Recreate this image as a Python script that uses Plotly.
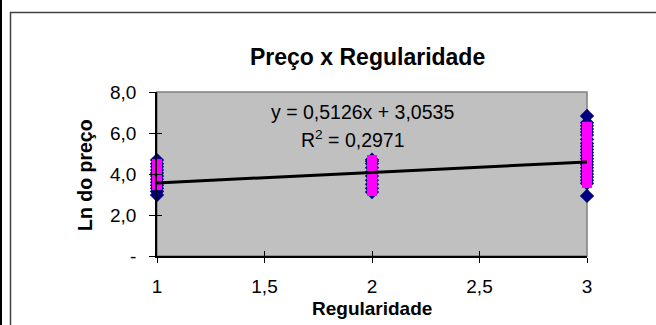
import plotly.graph_objects as go

# Regularity levels and natural log of price (observed values)
reg_obs = [1] * 12 + [2] * 10 + [3] * 22
ln_obs = [2.97, 3.15, 3.30, 3.45, 3.60, 3.75, 3.90, 4.05, 4.20, 4.35, 4.50, 4.68,
          3.12, 3.30, 3.50, 3.70, 3.90, 4.10, 4.30, 4.50, 4.62, 4.70,
          2.93, 3.55, 3.70, 3.85, 4.00, 4.15, 4.30, 4.45, 4.60, 4.75, 4.90,
          5.05, 5.20, 5.35, 5.50, 5.70, 5.90, 6.05, 6.20, 6.35, 6.50, 6.83]

# Second series shown with square markers
reg_sq = [1] * 11 + [2] * 16 + [3] * 29
ln_sq = [3.46, 3.55, 3.65, 3.75, 3.85, 3.95, 4.05, 4.15, 4.25, 4.35, 4.49,
         3.17, 3.27, 3.37, 3.47, 3.57, 3.67, 3.77, 3.87, 3.97, 4.07, 4.17,
         4.27, 4.37, 4.47, 4.57, 4.68,
         3.56, 3.66, 3.76, 3.86, 3.96, 4.06, 4.16, 4.26, 4.36, 4.46, 4.56,
         4.66, 4.76, 4.86, 4.96, 5.06, 5.16, 5.26, 5.36, 5.46, 5.56, 5.66,
         5.76, 5.86, 5.96, 6.06, 6.16, 6.26, 6.30]

# Linear trend: y = 0,5126x + 3,0535
slope = 0.5126
intercept = 3.0535
trend_x = [1, 3]
trend_y = [slope * v + intercept for v in trend_x]

x_ticks = [1, 1.5, 2, 2.5, 3]
x_ticktext = ["1", "1,5", "2", "2,5", "3"]
y_ticks = [0, 2, 4, 6, 8]
y_ticktext = ["-", "2,0", "4,0", "6,0", "8,0"]

FONT = "Liberation Sans, Arial, sans-serif"

fig = go.Figure()
fig.add_trace(go.Scatter(
    x=reg_obs, y=ln_obs, mode="markers",
    marker=dict(symbol="diamond", size=11, color="#000080"),
    showlegend=False, cliponaxis=False,
))
fig.add_trace(go.Scatter(
    x=reg_sq, y=ln_sq, mode="markers",
    marker=dict(symbol="square", size=10, color="#FF00FF"),
    showlegend=False, cliponaxis=False,
))
fig.add_trace(go.Scatter(
    x=trend_x, y=trend_y, mode="lines",
    line=dict(color="black", width=3),
    showlegend=False,
))
# invisible trace that carries the inside half of the crossing tick marks
fig.add_trace(go.Scatter(x=[1], y=[0], xaxis="x2", yaxis="y2", mode="markers",
                         marker=dict(opacity=0), showlegend=False, hoverinfo="skip"))

L, R, T, B = 157, 69, 92, 69
W, H = 656, 325
pw, ph = W - L - R, H - T - B


def px(p):
    return (p - L) / pw


def py(q):
    return (H - B - q) / ph


fig.update_layout(
    width=W, height=H,
    margin=dict(l=L, r=R, t=T, b=B),
    paper_bgcolor="white",
    plot_bgcolor="#C0C0C0",
    font=dict(family=FONT, size=19, color="black"),
    xaxis=dict(range=[1, 3], tickvals=x_ticks, ticktext=x_ticktext,
               showgrid=False, zeroline=False, showline=True, linecolor="black",
               linewidth=1.5, ticks="outside", ticklen=5, tickcolor="black",
               tickfont=dict(size=19), ticklabelstandoff=7),
    yaxis=dict(range=[0, 8], tickvals=y_ticks, ticktext=y_ticktext,
               showgrid=False, zeroline=False, showline=True, linecolor="black",
               linewidth=1.5, ticks="outside", ticklen=6, tickcolor="black",
               tickfont=dict(size=19), ticklabelstandoff=9),
    xaxis2=dict(range=[1, 3], overlaying="x", anchor="y2", side="bottom",
                tickvals=x_ticks, showticklabels=False, showgrid=False,
                zeroline=False, ticks="inside", ticklen=5, tickcolor="black"),
    yaxis2=dict(range=[0, 8], overlaying="y", anchor="x2", side="left",
                tickvals=y_ticks, showticklabels=False, showgrid=False,
                zeroline=False, ticks="inside", ticklen=5, tickcolor="black"),
    shapes=[
        # plot-area border
        dict(type="rect", xref="paper", yref="paper", x0=0, x1=1, y0=0, y1=1,
             line=dict(color="#808080", width=1.5), layer="below"),
        # chart frame
        dict(type="rect", xref="paper", yref="paper",
             x0=px(10.5), x1=px(720), y0=py(400), y1=py(12.5),
             line=dict(color="#404040", width=1.5), fillcolor="rgba(0,0,0,0)"),
        # left edge rule
        dict(type="line", xref="paper", yref="paper",
             x0=px(1), x1=px(1), y0=py(-10), y1=py(400),
             line=dict(color="black", width=2)),
    ],
    annotations=[
        dict(text="<b>Preço x Regularidade</b>", xref="paper", yref="paper",
             x=px(367), y=py(57), showarrow=False, font=dict(size=23),
             xanchor="center", yanchor="middle"),
        dict(text="<b>Regularidade</b>", xref="paper", yref="paper",
             x=px(372), y=py(308), showarrow=False, font=dict(size=19),
             xanchor="center", yanchor="middle"),
        dict(text="<b>Ln do preço</b>", xref="paper", yref="paper",
             x=px(85), y=py(175), showarrow=False, font=dict(size=19.5),
             textangle=-90, xanchor="center", yanchor="middle"),
        dict(text="y = 0,5126x + 3,0535", xref="paper", yref="paper",
             x=px(362), y=py(112), showarrow=False, font=dict(size=19.5),
             xanchor="center", yanchor="middle"),
        dict(text="R<sup>2</sup> = 0,2971", xref="paper", yref="paper",
             x=px(353), y=py(139), showarrow=False, font=dict(size=19.5),
             xanchor="center", yanchor="middle"),
    ],
)

fig.write_html("out.html")
